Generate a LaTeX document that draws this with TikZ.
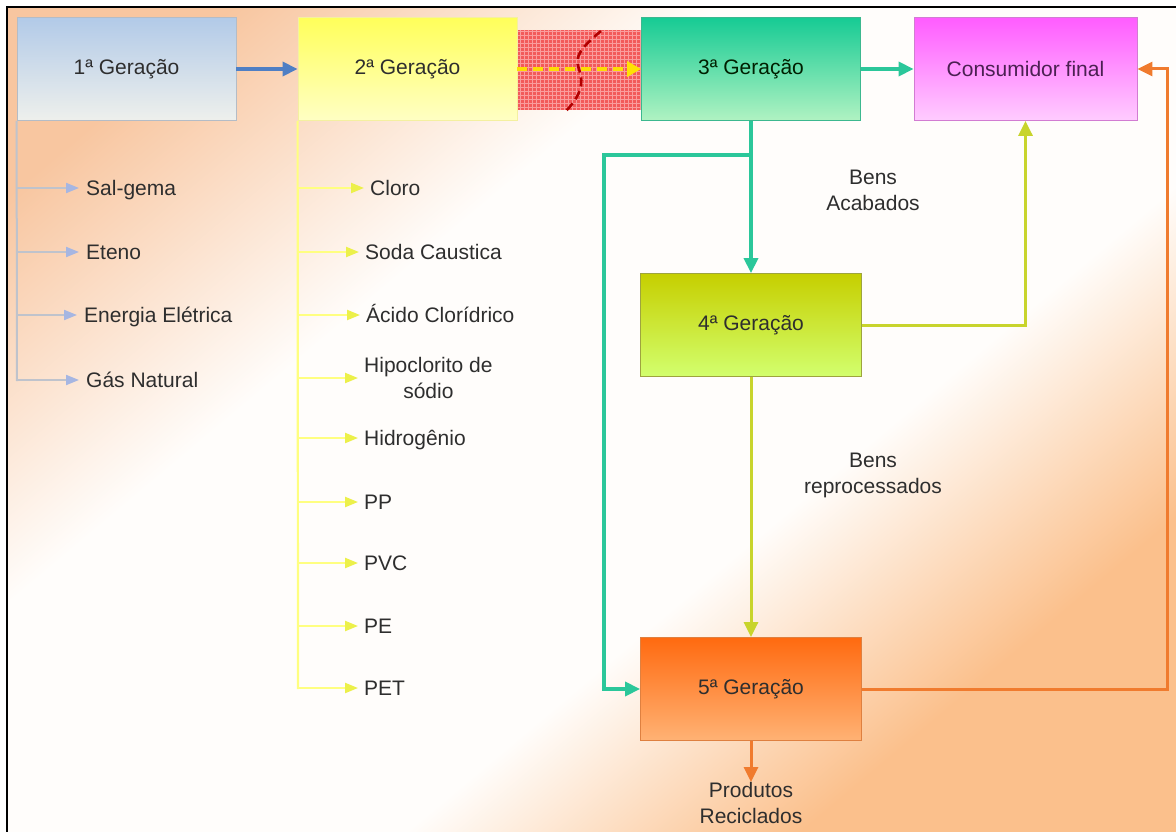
\documentclass[tikz,border=0pt]{standalone}
\usepackage{fontspec}
\setmainfont{Liberation Sans}
\usetikzlibrary{arrows.meta,calc}

\definecolor{peachA}{HTML}{F8C6A0}
\definecolor{peachB}{HTML}{FBC08C}
\definecolor{paleW}{HTML}{FFFDFB}
\definecolor{txt}{HTML}{2E2E2E}
\definecolor{blueA}{HTML}{4F7FC4}
\definecolor{grayL}{HTML}{BFC3CC}
\definecolor{grayTip}{HTML}{A6B6E2}
\definecolor{yelL}{HTML}{FFFF80}
\definecolor{yelTip}{HTML}{ECF04A}
\definecolor{tealA}{HTML}{2BC79A}
\definecolor{oliveA}{HTML}{C8D42C}
\definecolor{orangeA}{HTML}{F07B2E}
\definecolor{gridRed}{HTML}{F25A5A}
\definecolor{gridLine}{HTML}{FA9C9C}
% box fills
\definecolor{gOneTop}{HTML}{B2CAE8}
\definecolor{gOneBot}{HTML}{EEF0EC}
\definecolor{gOneLine}{HTML}{B4BCC6}
\definecolor{gTwoTop}{HTML}{FFFF5A}
\definecolor{gTwoBot}{HTML}{FFFFC4}
\definecolor{gTwoLine}{HTML}{F4F0A0}
\definecolor{gThrTop}{HTML}{16CB94}
\definecolor{gThrBot}{HTML}{B0F2C2}
\definecolor{gThrLine}{HTML}{3CB88F}
\definecolor{conTop}{HTML}{FF5CFF}
\definecolor{conBot}{HTML}{FFCCFF}
\definecolor{conLine}{HTML}{D27CD2}
\definecolor{conTxt}{HTML}{4B2052}
\definecolor{gFouTop}{HTML}{C6CF00}
\definecolor{gFouBot}{HTML}{D2FF6E}
\definecolor{gFouLine}{HTML}{9EA43E}
\definecolor{gFivTop}{HTML}{FF6A10}
\definecolor{gFivBot}{HTML}{FFB274}
\definecolor{gFivLine}{HTML}{DE8040}

% diagonal page wash: peach corners, wide pale band in between
\pgfdeclareverticalshading{pagewash}{100bp}{%
  color(0bp)=(peachB); color(27bp)=(peachB); color(40bp)=(paleW);
  color(62bp)=(paleW); color(78bp)=(peachA); color(100bp)=(peachA)}

\tikzset{
  every node/.style={font=\fontsize{21}{26}\selectfont, text=txt},
  gen/.style={draw, line width=0.8pt, minimum width=219, minimum height=103,
              inner sep=0, anchor=center},
  item/.style={anchor=west, inner sep=0, text height=16, text depth=1},
  itemtwo/.style={anchor=west, inner sep=0, align=center},
  note/.style={inner sep=0, align=center},
  spineG/.style={draw=grayL, line width=2pt},
  branchG/.style={draw=grayL, line width=2pt, shorten >=7pt,
                  -{Triangle[length=13pt,width=10pt,color=grayTip]}},
  spineY/.style={draw=yelL, line width=2.2pt},
  branchY/.style={draw=yelL, line width=2.2pt, shorten >=6pt,
                  -{Triangle[length=13pt,width=10pt,color=yelTip]}},
  flowB/.style={draw=blueA, line width=3.5pt, -{Triangle[length=15pt,width=14pt]}},
  flowT/.style={draw=tealA, line width=3.5pt, -{Triangle[length=15pt,width=14pt]}},
  flowO/.style={draw=oliveA, line width=3pt, -{Triangle[length=15pt,width=14pt]}},
  flowR/.style={draw=orangeA, line width=3pt, -{Triangle[length=15pt,width=14pt]}},
}

\begin{document}
\begin{tikzpicture}[x=1pt,y=-1pt]
\useasboundingbox (0,0) rectangle (1176,832);
% page background with its frame
\fill[white] (0,0) rectangle (1176,832);
\shade[shading=pagewash, shading angle=40] (8,8) rectangle (1176,832);
\draw[black, line width=1.6pt] (7,832) -- (7,7) -- (1176,7);

% generation boxes
\node[gen, top color=gOneTop, bottom color=gOneBot, draw=gOneLine] (g1) at (126.5,69) {1ª Geração};
\node[gen, top color=gTwoTop, bottom color=gTwoBot, draw=gTwoLine] (g2) at (407.5,69) {2ª Geração};
\node[gen, top color=gThrTop, bottom color=gThrBot, draw=gThrLine, text=black!80!green!60!black] (g3) at (751,69) {3ª Geração};
\node[gen, minimum width=223, top color=conTop, bottom color=conBot, draw=conLine, text=conTxt] (con) at (1025.5,69) {Consumidor final};
\node[gen, minimum width=221, top color=gFouTop, bottom color=gFouBot, draw=gFouLine] (g4) at (751,325) {4ª Geração};
\node[gen, minimum width=221, top color=gFivTop, bottom color=gFivBot, draw=gFivLine] (g5) at (751,689) {5ª Geração};

% hatched barrier between 2nd and 3rd generation
\fill[gridRed] (518,30) rectangle (641,110);
\foreach \gx in {520,524,...,640} \draw[gridLine, line width=1pt] (\gx,30) -- (\gx,110);
\foreach \gy in {32,36,...,108} \draw[gridLine, line width=1pt] (518,\gy) -- (641,\gy);
\draw[red!70!black, line width=2.6pt, dash pattern=on 9pt off 5pt]
  (601,31) .. controls (588,42) and (574,54) .. (578,66)
  .. controls (582,78) and (586,90) .. (566,111);

% main flow
\draw[flowB] (g1) -- (g2);
\draw[draw=yellow!80!orange, line width=3.5pt, dash pattern=on 10pt off 6pt,
      -{Triangle[length=14pt,width=15pt,color=yellow!85!orange]}] (g2) -- (g3);
\draw[flowT] (g3) -- (con);
\draw[flowT] (g3.south) -- (g4.north);
\coordinate (tbend) at (604,155);
\draw[flowT] (g3.south |- tbend) -- (tbend) |- (g5.west);
\draw[flowO] (g4.east) -| (con.south);
\draw[flowO] (g4.south) -- (g5.north);
\coordinate (obend) at (1167,689);
\draw[flowR] (g5.east) -- (obend) |- (con.east);

% flow labels
\node[note] (ba) at (873,190) {Bens\\Acabados};
\node[note] (br) at (873,475) {Bens\\reprocessados};
\node[note] (prod) at (751,803) {Produtos\\Reciclados};
\draw[flowR] (g5.south) -- (prod.north);

% first generation inputs
\node[item] (sal) at (86,188) {Sal-gema};
\node[item] (ete) at (86,252) {Eteno};
\node[item] (ene) at (84,315) {Energia Elétrica};
\node[item] (gas) at (86,380) {Gás Natural};
\coordinate (gEnd) at (17,381);
\draw[spineG] (g1.south west) -- (gEnd);
\foreach \n in {sal,ete,ene,gas}
  \draw[branchG] (g1.south west |- \n.west) -- (\n.west);

% second generation products
\node[item] (clo) at (370,188) {Cloro};
\node[item] (sod) at (365,252) {Soda Caustica};
\node[item] (aci) at (366,315) {Ácido Clorídrico};
\node[itemtwo] (hip) at (364,378) {Hipoclorito de\\sódio};
\node[item] (hid) at (364,438) {Hidrogênio};
\node[item] (pp) at (364,502) {PP};
\node[item] (pvc) at (364,563) {PVC};
\node[item] (pe) at (364,626) {PE};
\node[item] (pet) at (364,688) {PET};
\coordinate (yEnd) at (298,689);
\draw[spineY] (g2.south west) -- (yEnd);
\foreach \n in {clo,sod,aci,hip,hid,pp,pvc,pe,pet}
  \draw[branchY] (g2.south west |- \n.west) -- (\n.west);
\end{tikzpicture}
\end{document}
